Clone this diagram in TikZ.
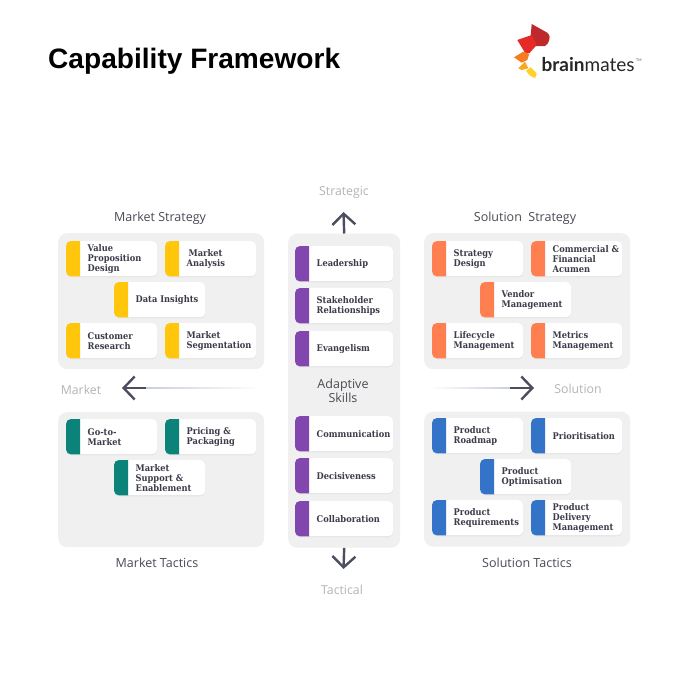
\documentclass[tikz,border=0pt]{standalone}
\usepackage{fontspec}
\setmainfont{Open Sans}
\newfontfamily\cardfont{DejaVu Serif Condensed}
\newfontfamily\logofont{Lato}
\newfontfamily\titlefont{Liberation Sans}
\usetikzlibrary{arrows.meta,shadows,calc}
\definecolor{panelgrey}{HTML}{F0F0F0}
\definecolor{inkdark}{HTML}{3B3B4A}
\definecolor{labelgrey}{HTML}{4A4A55}
\definecolor{fadedgrey}{HTML}{B4B4B8}
\definecolor{arrowink}{HTML}{4D4D60}
\definecolor{cyellow}{HTML}{FFC60B}
\definecolor{cteal}{HTML}{0C8379}
\definecolor{cpurple}{HTML}{8246AF}
\definecolor{corange}{HTML}{FF7F50}
\definecolor{cblue}{HTML}{3374C8}
\definecolor{fadeline}{HTML}{C9CFDC}
\definecolor{logodark}{HTML}{BE2A2C}
\definecolor{logored}{HTML}{E52A28}
\definecolor{logoorange}{HTML}{F57C20}
\definecolor{logoamber}{HTML}{FBA81F}
\definecolor{logoyellow}{HTML}{FFD028}
\tikzset{
  x=1pt,y=-1pt,
  panel/.style={fill=panelgrey,rounded corners=9pt,anchor=north west,inner sep=0pt},
  cardbox/.style={fill=white,rounded corners=5pt,anchor=north west,inner sep=0pt,minimum height=35pt,
    drop shadow={opacity=.10,shadow xshift=0pt,shadow yshift=-1.2pt}},
  cardtext/.style={anchor=west,align=left,inner sep=0pt,text=inkdark,font=\cardfont\bfseries\fontsize{9.2}{10.2}\selectfont},
  grouplabel/.style={text=labelgrey,font=\fontsize{12.5}{13.7}\selectfont,inner sep=0pt},
  axislabel/.style={text=fadedgrey,font=\fontsize{12.3}{13}\selectfont,inner sep=0pt},
  bigarrow/.style={draw=arrowink,line width=2.4pt,-{Straight Barb[length=11pt,width=23pt,line width=2.4pt]}},
}
% name, x, y, colour, card width, text
\newcommand{\cardat}[6]{%
  \node[cardbox,minimum width=#5 pt] (#1) at (#2,#3) {};
  \fill[#4] ([xshift=14pt]#1.north west) [rounded corners=5pt] -- (#1.north west) -- (#1.south west) [sharp corners] -- ([xshift=14pt]#1.south west) -- cycle;
  \node[cardtext] (#1-t) at ($(#1.west)+(21.5,.5)$) {#6};
}
\begin{document}
\begin{tikzpicture}
\useasboundingbox (0,0) rectangle (687,699);
\fill[white] (0,0) rectangle (687,699);

\node[anchor=base west,inner sep=0pt,font=\titlefont\bfseries\fontsize{28.1}{32}\selectfont,text=black] (title) at (48,68) {Capability Framework};

% logo
\fill[logodark] (531.7,24) -- (547.3,32.7) .. controls (550,35.5) and (550,37.5) .. (549.3,40) .. controls (548.5,43) and (547,45) .. (545,46) -- (535,46) -- (530.7,35) -- cycle;
\fill[logored] (517.3,40) -- (531.7,35) -- (536.7,45) -- (529.3,53.3) -- (525,52.7) -- cycle;
\fill[logoorange] (514,57.3) -- (523.3,51.7) -- (529.3,54) -- (527.3,60) -- (521.7,62.7) -- cycle;
\fill[logoamber] (518.3,68.3) -- (525,61.7) -- (528.3,68.3) -- (521.7,70) -- cycle;
\fill[logoyellow] (526,70.7) -- (530.7,67.3) -- (536.7,73.3) -- (535,78.3) -- (529.3,75) -- cycle;
\node[anchor=base west,inner sep=0pt,text=black!85,font=\logofont\fontsize{19}{20}\selectfont] (logo) at (541.5,71) {\textbf{brain}mates};
\node[anchor=base west,inner sep=0pt,text=black!70,font=\logofont\fontsize{3.5}{4}\selectfont] (tm) at (636,61) {TM};

% panels
\node[panel,minimum width=206pt,minimum height=136pt] (ms) at (58,233) {};
\node[panel,minimum width=206pt,minimum height=135pt] (mt) at (58,412) {};
\node[panel,minimum width=112pt,minimum height=314pt] (ad) at (288,233.5) {};
\node[panel,minimum width=206pt,minimum height=136pt] (ss) at (424,233) {};
\node[panel,minimum width=206pt,minimum height=135pt] (st) at (424,411.5) {};

% market strategy
\cardat{a1}{66}{241}{cyellow}{91}{Value\\Proposition\\Design}
\cardat{a2}{165}{241}{cyellow}{91}{\hspace*{2pt}Market\\Analysis}
\cardat{a3}{114}{282}{cyellow}{91}{Data Insights}
\cardat{a4}{66}{323}{cyellow}{91}{Customer\\Research}
\cardat{a5}{165}{323}{cyellow}{91}{Market\\Segmentation}

% market tactics
\cardat{b1}{66}{419}{cteal}{91}{Go-to-\\Market}
\cardat{b2}{165}{419}{cteal}{91}{Pricing \&\\Packaging}
\cardat{b3}{114}{460}{cteal}{91}{Market\\Support \&\\Enablement}

% adaptive skills
\cardat{c1}{295}{246}{cpurple}{98}{Leadership}
\cardat{c2}{295}{288}{cpurple}{98}{Stakeholder\\Relationships}
\cardat{c3}{295}{331}{cpurple}{98}{Evangelism}
\cardat{c4}{295}{416}{cpurple}{98}{Communication}
\cardat{c5}{295}{458}{cpurple}{98}{Decisiveness}
\cardat{c6}{295}{501}{cpurple}{98}{Collaboration}

% solution strategy
\cardat{d1}{432}{241}{corange}{91}{Strategy\\Design}
\cardat{d2}{531}{241}{corange}{91}{Commercial \&\\Financial\\Acumen}
\cardat{d3}{480}{282}{corange}{91}{Vendor\\Management}
\cardat{d4}{432}{323}{corange}{91}{Lifecycle\\Management}
\cardat{d5}{531}{323}{corange}{91}{Metrics\\Management}

% solution tactics
\cardat{e1}{432}{418}{cblue}{91}{Product\\Roadmap}
\cardat{e2}{531}{418}{cblue}{91}{Prioritisation}
\cardat{e3}{480}{459}{cblue}{91}{Product\\Optimisation}
\cardat{e4}{432}{500}{cblue}{91}{Product\\Requirements}
\cardat{e5}{531}{500}{cblue}{91}{Product\\Delivery\\Management}

% labels
\node[grouplabel] (l1) at (160,218) {Market Strategy};
\node[grouplabel] (l2) at (525,218) {Solution\ \ Strategy};
\node[grouplabel] (l3) at (157,563) {Market Tactics};
\node[grouplabel] (l4) at (527,563) {Solution Tactics};
\node[grouplabel,align=center] (l5) at (343,391) {Adaptive\\Skills};
\node[axislabel] (x1) at (344,192) {Strategic};
\node[axislabel] (x2) at (342,590) {Tactical};
\node[axislabel] (x3) at (81,390) {Market};
\node[axislabel] (x4) at (578,389) {Solution};

% arrows
\coordinate (upend) at (343.5,212);
\coordinate (downend) at (343.5,569);
\coordinate (lstart) at (146,388);
\coordinate (lend) at (122,388);
\coordinate (rstart) at (510,388);
\coordinate (rend) at (534,388);
\shade[left color=fadeline,right color=white] ($(lstart)+(0,-.8)$) rectangle ($(lstart)+(116,.8)$);
\shade[left color=white,right color=fadeline] ($(rstart)+(-82,-.8)$) rectangle ($(rstart)+(0,.8)$);
\draw[bigarrow] (ad.north) -- (upend);
\draw[bigarrow] (ad.south) -- (downend);
\draw[bigarrow] (lstart) -- (lend);
\draw[bigarrow] (rstart) -- (rend);
\end{tikzpicture}
\end{document}
